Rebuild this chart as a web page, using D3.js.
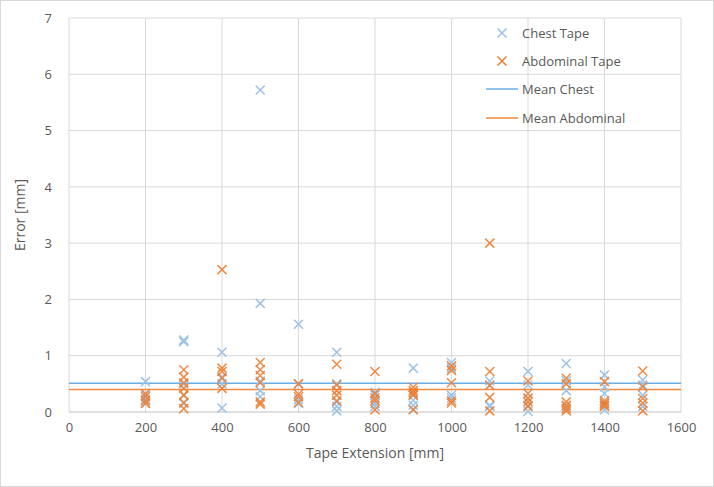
<!DOCTYPE html>
<html><head><meta charset="utf-8">
<script src="https://cdn.jsdelivr.net/npm/d3@7"></script>
<style>body{margin:0;background:#fff}svg{display:block}</style>
</head><body>
<script>
const xTicks = [0,200,400,600,800,1000,1200,1400,1600];
const yTicks = [0,1,2,3,4,5,6,7];
const extensions = [200,300,400,500,600,700,800,900,1000,1100,1200,1300,1400,1500];
const chestErrors = [
  [0.54,0.3,0.22,0.16],
  [1.28,1.25,0.5,0.3,0.15],
  [1.06,0.62,0.5,0.07],
  [5.72,1.93,0.55,0.38,0.27],
  [1.56,0.5,0.22,0.15],
  [1.06,0.5,0.18,0.1,0.02],
  [0.35,0.3,0.15,0.1],
  [0.78,0.3,0.21,0.12,0.05],
  [0.88,0.78,0.3,0.25],
  [0.55,0.48,0.12,0.1],
  [0.72,0.48,0.25,0.12,0.01],
  [0.86,0.55,0.38,0.1],
  [0.66,0.45,0.33,0.15,0.04],
  [0.57,0.48,0.3,0.1]
];
const abdominalErrors = [
  [0.33,0.27,0.2,0.15],
  [0.75,0.62,0.52,0.42,0.3,0.17,0.06],
  [2.53,0.78,0.72,0.6,0.42],
  [0.88,0.75,0.65,0.52,0.18,0.14],
  [0.5,0.32,0.27,0.17],
  [0.85,0.48,0.38,0.3,0.2],
  [0.72,0.33,0.25,0.2,0.04],
  [0.44,0.38,0.34,0.3,0.04],
  [0.82,0.74,0.52,0.2,0.16],
  [3.0,0.72,0.47,0.26,0.02],
  [0.55,0.33,0.24,0.18,0.1],
  [0.6,0.5,0.18,0.12,0.06,0.02],
  [0.54,0.2,0.16,0.12,0.1],
  [0.73,0.45,0.24,0.16,0.02]
];
const meanChest = 0.51;
const meanAbdominal = 0.40;
const seriesNames = ["Chest Tape","Abdominal Tape","Mean Chest","Mean Abdominal"];

const W = 714, H = 487;
const m = {left:69, right:681, top:18, bottom:412};
const C_CHEST = "#9dc3e6", C_ABD = "#ed7d31", C_MCHEST = "#6aaee6", C_MABD = "#f08a3c";
const font = "'Open Sans', sans-serif";

const svg = d3.select("body").append("svg").attr("width",W).attr("height",H);
svg.append("rect").attr("x",0.5).attr("y",0.5).attr("width",W-1).attr("height",H-1)
  .attr("fill","#fff").attr("stroke","#d9d9d9");

const x = d3.scaleLinear().domain([0,1600]).range([m.left,m.right]);
const y = d3.scaleLinear().domain([0,7]).range([m.bottom,m.top]);

// gridlines
const g = svg.append("g");
g.selectAll(".vg").data(xTicks).join("line")
  .attr("x1",d=>x(d)).attr("x2",d=>x(d)).attr("y1",m.top).attr("y2",m.bottom)
  .attr("stroke","#d9d9d9").attr("stroke-width",1);
g.selectAll(".hg").data(yTicks).join("line")
  .attr("x1",m.left).attr("x2",m.right).attr("y1",d=>y(d)).attr("y2",d=>y(d))
  .attr("stroke",d=>d===0?"#bfbfbf":"#d9d9d9").attr("stroke-width",1);

// axes (labels only)
const xAxis = svg.append("g").attr("transform",`translate(0,${m.bottom})`)
  .call(d3.axisBottom(x).tickValues(xTicks).tickSize(0).tickPadding(11).tickFormat(d3.format("d")));
const yAxis = svg.append("g").attr("transform",`translate(${m.left},0)`)
  .call(d3.axisLeft(y).tickValues(yTicks).tickSize(0).tickPadding(17).tickFormat(d3.format("d")));
[xAxis,yAxis].forEach(a=>{
  a.select(".domain").remove();
  a.selectAll("text").attr("font-family",font).attr("font-size",13).attr("fill","#595959");
});

svg.append("text").attr("x",(m.left+m.right)/2).attr("y",458).attr("text-anchor","middle")
  .attr("font-family",font).attr("font-size",14).attr("fill","#595959").text("Tape Extension [mm]");
svg.append("text").attr("transform",`translate(25,${(m.top+m.bottom)/2}) rotate(-90)`)
  .attr("text-anchor","middle").attr("font-family",font).attr("font-size",14).attr("fill","#595959")
  .text("Error [mm]");

// mean lines
svg.append("line").attr("x1",m.left).attr("x2",m.right).attr("y1",y(meanChest)).attr("y2",y(meanChest))
  .attr("stroke",C_MCHEST).attr("stroke-width",1.5);
svg.append("line").attr("x1",m.left).attr("x2",m.right).attr("y1",y(meanAbdominal)).attr("y2",y(meanAbdominal))
  .attr("stroke",C_MABD).attr("stroke-width",1.5);

function flatten(arr){
  const out=[];
  arr.forEach((vals,i)=>vals.forEach(v=>out.push({x:extensions[i],y:v})));
  return out;
}
const cross = d3.symbol().type(d3.symbolCross).size(0);
function drawX(sel, color){
  const s = 4.5;
  sel.append("path").attr("d",`M${-s},${-s}L${s},${s}M${-s},${s}L${s},${-s}`)
    .attr("stroke",color).attr("stroke-width",1.5).attr("fill","none");
}
svg.append("g").selectAll("g").data(flatten(chestErrors)).join("g")
  .attr("transform",d=>`translate(${x(d.x)},${y(d.y)})`).each(function(){drawX(d3.select(this),C_CHEST);});
svg.append("g").selectAll("g").data(flatten(abdominalErrors)).join("g")
  .attr("transform",d=>`translate(${x(d.x)},${y(d.y)})`).each(function(){drawX(d3.select(this),C_ABD);})
  .attr("opacity",0.9);

// legend
const lg = svg.append("g");
const rows = [33,61,89,118];
seriesNames.forEach((name,i)=>{
  const ry = rows[i];
  if(i<2){
    const gg = lg.append("g").attr("transform",`translate(502,${ry})`);
    drawX(gg, i===0?C_CHEST:C_ABD);
  } else {
    lg.append("line").attr("x1",486).attr("x2",518).attr("y1",ry).attr("y2",ry)
      .attr("stroke",i===2?C_MCHEST:C_MABD).attr("stroke-width",1.5);
  }
  lg.append("text").attr("x",522).attr("y",ry).attr("dy","0.35em")
    .attr("font-family",font).attr("font-size",13).attr("fill","#595959").text(name);
});
</script>
</body></html>
